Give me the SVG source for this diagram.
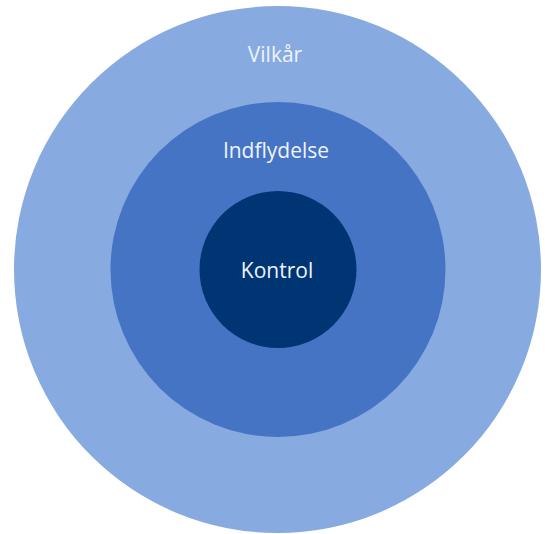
<svg xmlns="http://www.w3.org/2000/svg" width="545" height="534" viewBox="0 0 545 534">
<style>
text{font-family:"Open Sans","DejaVu Sans",sans-serif;font-size:21px;fill:#EEF3FB;text-anchor:middle}
</style>
<rect width="545" height="534" fill="#FFFFFF"/>
<g id="vilkar"><circle cx="277.5" cy="269.5" r="263.5" fill="#87AAE0"/><text x="275" y="61.5">Vilkår</text></g>
<g id="indflydelse"><circle cx="278" cy="269.5" r="167.5" fill="#4674C5"/><text x="276" y="158">Indflydelse</text></g>
<g id="kontrol"><circle cx="278" cy="269.5" r="78.5" fill="#003574"/><text x="277" y="278">Kontrol</text></g>
<g id="connectors"/>
</svg>
